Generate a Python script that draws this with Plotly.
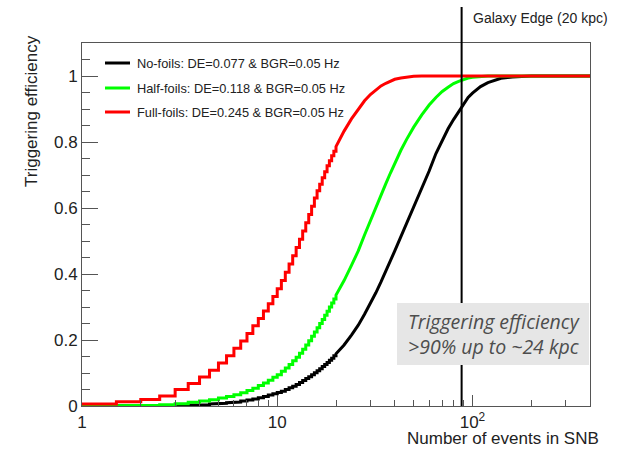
import plotly.graph_objects as go

# ---------------- data ----------------
# bin lower edges (number of events in SNB)
n_events = [1, 1.5, 2, 2.5, 3, 3.5, 4, 4.5, 5, 5.5, 6, 6.5, 7, 7.5, 8, 8.5, 9, 9.5,
            10, 10.5, 11, 11.5, 12, 12.5, 13, 13.5, 14, 14.5, 15, 15.5, 16, 16.5,
            17, 17.5, 18, 18.5, 19, 19.5, 20,
            22, 24, 26, 28, 30, 32, 34, 36, 38, 40, 43, 46, 50, 55, 60, 65, 70, 75,
            80, 85, 90, 95, 100, 110, 120, 130, 140, 160, 180, 200, 250, 300, 400]

eff_no_foils = [0, 0, 0.0005, 0.001, 0.002, 0.003, 0.004, 0.006, 0.008, 0.010, 0.012, 0.015,
                0.018, 0.021, 0.025, 0.029, 0.033, 0.037, 0.041, 0.045, 0.050, 0.055, 0.060,
                0.065, 0.071, 0.077, 0.083, 0.089, 0.095, 0.101, 0.107, 0.113, 0.120, 0.126,
                0.132, 0.139, 0.145, 0.152, 0.158,
                0.185, 0.215, 0.245, 0.278, 0.310, 0.343, 0.376, 0.408, 0.440, 0.470, 0.513,
                0.553, 0.600, 0.660, 0.712, 0.765, 0.805, 0.840, 0.868, 0.893, 0.917, 0.935,
                0.948, 0.968, 0.980, 0.988, 0.993, 0.997, 0.999, 1.0, 1.0, 1.0, 1.0]

eff_half_foils = [0, 0.001, 0.002, 0.004, 0.007, 0.011, 0.015, 0.019, 0.024, 0.029, 0.034, 0.040,
                  0.047, 0.054, 0.062, 0.070, 0.078, 0.087, 0.095, 0.105, 0.115, 0.126, 0.137,
                  0.148, 0.160, 0.172, 0.185, 0.198, 0.211, 0.224, 0.237, 0.250, 0.262, 0.275,
                  0.287, 0.300, 0.312, 0.324, 0.336,
                  0.380, 0.426, 0.470, 0.518, 0.562, 0.603, 0.640, 0.674, 0.706, 0.735, 0.775,
                  0.808, 0.845, 0.882, 0.912, 0.935, 0.953, 0.966, 0.977, 0.984, 0.990, 0.994,
                  0.996, 0.999, 1.0, 1.0, 1.0, 1.0, 1.0, 1.0, 1.0, 1.0, 1.0]

eff_full_foils = [0.006, 0.013, 0.020, 0.030, 0.050, 0.068, 0.088, 0.108, 0.130, 0.152, 0.175,
                  0.197, 0.220, 0.243, 0.265, 0.288, 0.310, 0.332, 0.355, 0.380, 0.405, 0.430,
                  0.455, 0.480, 0.505, 0.530, 0.555, 0.580, 0.605, 0.630, 0.652, 0.672, 0.692,
                  0.710, 0.728, 0.743, 0.758, 0.772, 0.786,
                  0.833, 0.870, 0.900, 0.925, 0.944, 0.958, 0.970, 0.978, 0.985, 0.990, 0.994,
                  0.997, 0.999, 1.0, 1.0, 1.0, 1.0, 1.0, 1.0, 1.0, 1.0, 1.0,
                  1.0, 1.0, 1.0, 1.0, 1.0, 1.0, 1.0, 1.0, 1.0, 1.0, 1.0]

series_names = ["No-foils: DE=0.077 & BGR=0.05 Hz",
                "Half-foils: DE=0.118 & BGR=0.05 Hz",
                "Full-foils: DE=0.245 & BGR=0.05 Hz"]
series_colors = ["#000000", "#00ff00", "#ff0000"]

galaxy_edge_events = 88
galaxy_edge_label = "Galaxy Edge (20 kpc)"

x_tick_vals = [1, 10, 100]
x_tick_text = ["1", "10", "10<sup>2</sup>"]
x_minor_vals = [2, 3, 4, 5, 6, 7, 8, 9, 20, 30, 40, 50, 60, 70, 80, 90, 200, 300, 400]
y_tick_vals = [0, 0.2, 0.4, 0.6, 0.8, 1.0]
y_tick_text = ["0", "0.2", "0.4", "0.6", "0.8", "1"]
y_minor_vals = [0.05, 0.1, 0.15, 0.25, 0.3, 0.35, 0.45, 0.5, 0.55, 0.65, 0.7, 0.75,
                0.85, 0.9, 0.95, 1.05]

for s in (eff_no_foils, eff_half_foils, eff_full_foils):
    assert len(s) == len(n_events), len(s)

# ---------------- layout geometry ----------------
W, H = 618, 449
L, R, T, B = 82, 590, 43, 406
def xp(px):
    return (px - L) / (R - L)
def yp(py):
    return (B - py) / (B - T)

STEP_LIMIT = 20  # histogram staircase drawn explicitly below this, smooth beyond


def step_path(xs, ys):
    px, py = [], []
    for i, (x, y) in enumerate(zip(xs, ys)):
        if i > 0 and x <= STEP_LIMIT:
            px.append(x)
            py.append(ys[i - 1])
        px.append(x)
        py.append(y)
    return px, py


fig = go.Figure()
for name, ys, col in zip(series_names, [eff_no_foils, eff_half_foils, eff_full_foils],
                         series_colors):
    px_, py_ = step_path(n_events, ys)
    fig.add_trace(go.Scatter(x=px_, y=py_, mode="lines", name=name,
                             line=dict(color=col, width=3), showlegend=False))

font_main = "Liberation Sans, Arial, Helvetica, sans-serif"
axis_col = "#555555"

fig.update_layout(
    width=W, height=H,
    margin=dict(l=L, r=W - R, t=T, b=H - B),
    paper_bgcolor="white", plot_bgcolor="white",
    font=dict(family=font_main, color="#222222"),
    xaxis=dict(type="log", range=[0, 2.60206], showgrid=False, zeroline=False,
               showline=True, mirror=True, linecolor=axis_col, linewidth=1,
               ticks="inside", ticklen=11, tickcolor=axis_col, tickwidth=1,
               tickmode="array", tickvals=x_tick_vals, ticktext=x_tick_text,
               tickfont=dict(size=17, family=font_main, color="#222222"),
               ticklabelstandoff=1,
               minor=dict(ticks="inside", ticklen=6, tickcolor=axis_col,
                          tickmode="array", tickvals=x_minor_vals, showgrid=False)),
    yaxis=dict(range=[0, 1.1], showgrid=False, zeroline=False,
               showline=True, mirror=True, linecolor=axis_col, linewidth=1,
               ticks="inside", ticklen=16, tickcolor=axis_col, tickwidth=1,
               tickmode="array", tickvals=y_tick_vals, ticktext=y_tick_text,
               tickfont=dict(size=17, family=font_main, color="#222222"),
               ticklabelstandoff=0,
               minor=dict(ticks="inside", ticklen=8, tickcolor=axis_col,
                          tickmode="array", tickvals=y_minor_vals, showgrid=False)),
)

# galaxy edge vertical line (extends above the frame)
fig.add_shape(type="line", xref="x", yref="paper", x0=galaxy_edge_events,
              x1=galaxy_edge_events, y0=0, y1=yp(7),
              line=dict(color="black", width=2), layer="above")

# info box (covers the line)
fig.add_shape(type="rect", xref="paper", yref="paper", x0=xp(397), x1=xp(589),
              y0=yp(365), y1=yp(303), fillcolor="#e6e6e6",
              line=dict(width=0), layer="above")
fig.add_annotation(xref="paper", yref="paper", x=xp(494), y=yp(334),
                   text="Triggering efficiency<br>&gt;90% up to ~24 kpc",
                   showarrow=False, xanchor="center", yanchor="middle",
                   font=dict(family="Open Sans, Lato, sans-serif", size=19.5,
                             color="#4d4d4d", style="italic"),
                   align="left")

# galaxy edge label
fig.add_annotation(xref="paper", yref="paper", x=xp(471), y=yp(18),
                   text=galaxy_edge_label, showarrow=False,
                   xanchor="left", yanchor="middle",
                   font=dict(size=14, family=font_main, color="#222222"))

# legend (manual, ROOT style)
leg_rows = [63, 88, 112]
for name, col, ry in zip(series_names, series_colors, leg_rows):
    fig.add_shape(type="line", xref="paper", yref="paper", x0=xp(105), x1=xp(130),
                  y0=yp(ry), y1=yp(ry), line=dict(color=col, width=3))
    fig.add_annotation(xref="paper", yref="paper", x=xp(135), y=yp(ry), text=name,
                       showarrow=False, xanchor="left", yanchor="middle",
                       font=dict(size=12.8, family=font_main, color="#222222"))

# axis titles (ROOT style: right / top aligned)
fig.add_annotation(xref="paper", yref="paper", x=xp(600), y=yp(449),
                   text="Number of events in SNB", showarrow=False,
                   xanchor="right", yanchor="bottom", borderpad=0,
                   font=dict(size=17, family=font_main, color="#222222"))
fig.add_annotation(xref="paper", yref="paper", x=xp(32), y=yp(33),
                   text="Triggering efficiency", showarrow=False, textangle=-90,
                   xanchor="center", yanchor="top",
                   font=dict(size=17, family=font_main, color="#222222"))

fig.write_html("out.html", post_script="document.body.style.margin='0';",
               config={"displayModeBar": False})
